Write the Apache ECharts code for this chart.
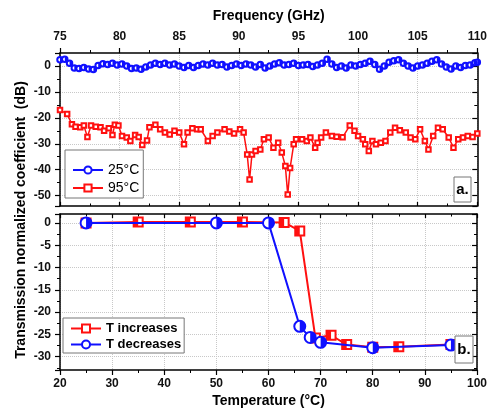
<!DOCTYPE html>
<html><head><meta charset="utf-8">
<script src="https://cdn.jsdelivr.net/npm/echarts@6/dist/echarts.min.js"></script>
<style>html,body{margin:0;padding:0;background:#fff}#c{width:490px;height:412px}</style>
</head><body><div id="c"></div><script>
// ---- data ----
const freqTicks = [75, 80, 85, 90, 95, 100, 105, 110];
const tempTicks = [20, 30, 40, 50, 60, 70, 80, 90, 100];

const blueFreq = [75.0,75.4,75.8,76.2,76.6,77.0,77.4,77.8,78.2,78.6,79.0,79.4,79.8,80.2,80.6,81.0,81.4,81.8,82.2,82.6,83.0,83.4,83.8,84.2,84.6,85.0,85.4,85.8,86.2,86.6,87.0,87.4,87.8,88.2,88.6,89.0,89.4,89.8,90.2,90.6,91.0,91.4,91.8,92.2,92.6,93.0,93.4,93.8,94.2,94.6,95.0,95.4,95.8,96.2,96.6,97.0,97.4,97.8,98.2,98.6,99.0,99.4,99.8,100.2,100.6,101.0,101.4,101.8,102.2,102.6,103.0,103.4,103.8,104.2,104.6,105.0,105.4,105.8,106.2,106.6,107.0,107.4,107.8,108.2,108.6,109.0,109.4,109.8,110.0];
const blueDb = [2.4,2.6,1.0,-0.8,-1.0,-0.6,-1.2,-1.4,0.2,0.9,0.6,1.0,0.4,0.8,0.0,-1.0,-0.8,-1.3,-0.4,0.4,1.0,0.6,1.0,0.4,0.8,0.0,-0.6,0.2,-0.6,0.2,0.8,0.4,1.0,0.4,0.6,-0.4,0.2,0.8,0.2,0.8,0.4,-0.4,0.6,-0.8,0.0,0.8,1.2,0.4,0.6,1.0,0.2,0.4,0.6,-0.2,0.4,1.0,2.6,0.8,-0.6,0.0,-0.8,0.4,0.0,0.6,1.0,1.8,0.6,-1.3,0.0,1.4,2.0,2.4,1.0,0.0,-0.8,0.0,0.4,1.0,1.8,2.4,0.8,-0.4,-1.2,0.0,-0.6,0.2,0.4,1.2,1.4];

const redFreq = [75.0,75.6,76.0,76.3,76.7,77.0,77.3,77.6,78.0,78.4,78.7,79.1,79.4,79.6,79.9,80.2,80.6,80.9,81.3,81.6,81.9,82.3,82.5,83.0,83.4,83.8,84.2,84.6,85.0,85.4,85.7,86.1,86.5,86.8,87.4,87.8,88.2,88.8,89.2,89.6,90.1,90.4,90.7,90.9,91.1,91.4,91.8,92.1,92.5,92.9,93.3,93.6,93.9,94.1,94.3,94.6,94.8,95.3,95.7,96.0,96.4,96.6,96.9,97.3,97.8,98.2,98.7,99.3,99.7,100.0,100.4,100.6,100.9,101.2,101.5,101.9,102.3,102.7,103.1,103.5,104.0,104.4,104.8,105.2,105.6,105.9,106.3,106.7,107.1,107.6,108.0,108.4,108.8,109.2,109.6,110.0];
const redDb = [-17,-18.5,-22.5,-23.4,-23.6,-23,-27.4,-23,-23.4,-23.6,-25,-24,-26.6,-22.7,-23,-27,-27.6,-28.9,-26.6,-27.4,-30.5,-28.7,-23.6,-22.7,-24.4,-25.7,-26.4,-25,-25.7,-30.2,-25.7,-24,-24.4,-24.4,-28.9,-27,-25.7,-24.4,-25.3,-26,-24.4,-25.7,-34.1,-43.8,-34.1,-32.8,-32.2,-28.3,-27.6,-31.5,-29.6,-33.4,-38.6,-49.6,-39.3,-30.2,-28.3,-28.3,-28.9,-27.6,-31.5,-29.6,-27.6,-25.7,-27,-27.3,-27.5,-23,-25,-27,-28.3,-30.2,-32.8,-28.9,-30.2,-29.6,-28.9,-25.7,-23.8,-24.8,-25.7,-27.6,-28.3,-24.4,-28.9,-32.2,-27,-23.8,-24.4,-27.6,-31.5,-28.3,-27.6,-27,-27.4,-26];

const incTemp = [25,35,45,55,63,66,69,72,75,80,85,95];
const incVal  = [0,0.2,0.2,0.2,0.1,-1.8,-25.8,-25.2,-27.3,-27.9,-27.8,-27.3];
const decTemp = [25,50,60,66,68,70,80,95];
const decVal  = [0,0,0,-23.2,-25.7,-26.8,-28,-27.4];

const names = { blue: '25°C', red: '95°C', inc: 'T increases', dec: 'T decreases' };

// ---- chart ----
const F = 'Arial, "Liberation Sans", sans-serif';
const pair = (a, b) => a.map((v, i) => [v, b[i]]);
const BLUE = '#1010ff', RED = '#ff1010';
const halfRight = 'path://M0,0 A1,1 0 0,1 0,2 Z';

function mainX(grid, pos, min, max, interval, name, gap, margin) {
  return {
    gridIndex: grid, type: 'value', position: pos, min, max, interval,
    name, nameLocation: 'middle', nameGap: gap,
    nameTextStyle: { fontFamily: F, fontWeight: 'bold', fontSize: 14, color: '#000' },
    axisLine: { show: true, onZero: false, lineStyle: { color: '#000', width: 1.5 } },
    axisTick: { show: true, length: 5, lineStyle: { color: '#000', width: 1.2 } },
    minorTick: { show: true, splitNumber: 2, length: 3, lineStyle: { color: '#000', width: 1 } },
    axisLabel: { fontFamily: F, fontWeight: 'bold', fontSize: 12, color: '#111', margin },
    splitLine: { show: true, lineStyle: { color: '#c8c8c8', type: 'dotted', width: 1 } }
  };
}
function sideX(grid, pos, min, max, interval) {
  return {
    gridIndex: grid, type: 'value', position: pos, min, max, interval,
    axisLine: { show: true, onZero: false, lineStyle: { color: '#000', width: 1.5 } },
    axisTick: { show: true, inside: true, length: 4, lineStyle: { color: '#000', width: 1.2 } },
    minorTick: { show: true, splitNumber: 2, length: 2.5, lineStyle: { color: '#000' } },
    axisLabel: { show: false }, splitLine: { show: false }
  };
}
function mainY(grid, min, max, split) {
  return {
    gridIndex: grid, type: 'value', position: 'left', min, max, splitNumber: split,
    axisLine: { show: true, onZero: false, lineStyle: { color: '#000', width: 1.5 } },
    axisTick: { show: true, length: 5, lineStyle: { color: '#000', width: 1.2 } },
    minorTick: { show: true, splitNumber: 2, length: 3, lineStyle: { color: '#000' } },
    axisLabel: { fontFamily: F, fontWeight: 'bold', fontSize: 12, color: '#111', margin: 9,
                 showMinLabel: false, showMaxLabel: false },
    splitLine: { show: true, showMinLine: false, showMaxLine: false,
                 lineStyle: { color: '#c8c8c8', type: 'dotted', width: 1 } }
  };
}
function sideY(grid, min, max, split) {
  return {
    gridIndex: grid, type: 'value', position: 'right', min, max, splitNumber: split,
    axisLine: { show: true, onZero: false, lineStyle: { color: '#000', width: 1.5 } },
    axisTick: { show: true, inside: true, length: 5, lineStyle: { color: '#000', width: 1.2 } },
    minorTick: { show: true, splitNumber: 2, length: 3, lineStyle: { color: '#000' } },
    axisLabel: { show: false }, splitLine: { show: false }
  };
}

const option = {
  animation: false,
  backgroundColor: '#fff',
  grid: [
    { left: 60, right: 9, top: 53, height: 153 },
    { left: 60, right: 9, top: 214, height: 156 }
  ],
  xAxis: [
    mainX(0, 'top', freqTicks[0], freqTicks[freqTicks.length - 1], 5, 'Frequency (GHz)', 30, 10),
    sideX(0, 'bottom', freqTicks[0], freqTicks[freqTicks.length - 1], 5),
    mainX(1, 'bottom', tempTicks[0], tempTicks[tempTicks.length - 1], 10, 'Temperature (°C)', 24, 8),
    sideX(1, 'top', tempTicks[0], tempTicks[tempTicks.length - 1], 10)
  ],
  yAxis: [
    mainY(0, -54, 5, 6), sideY(0, -54, 5, 6),
    mainY(1, -33, 2, 7), sideY(1, -33, 2, 7)
  ],
  legend: [
    {
      data: [names.blue, names.red], orient: 'vertical', left: 65, top: 150,
      padding: [13, 4, 3, 7], itemGap: 4, itemWidth: 30, itemHeight: 9,
      backgroundColor: '#fff', borderColor: '#777', borderWidth: 1,
      textStyle: { fontFamily: F, fontSize: 14, color: '#000' }
    },
    {
      data: [names.inc, names.dec], orient: 'vertical', left: 63, top: 318,
      padding: [4, 3, 2, 7], itemGap: 3, itemWidth: 30, itemHeight: 10,
      backgroundColor: '#fff', borderColor: '#777', borderWidth: 1,
      textStyle: { fontFamily: F, fontSize: 13, fontWeight: 'bold', color: '#000' }
    }
  ],
  series: [
    { name: names.blue, type: 'line', xAxisIndex: 0, yAxisIndex: 0, data: pair(blueFreq, blueDb),
      symbol: 'emptyCircle', symbolSize: 5.5, color: BLUE, lineStyle: { width: 1.5, color: BLUE },
      itemStyle: { color: BLUE, borderColor: '#6a6aff', borderWidth: 1 }, z: 3 },
    { name: names.blue, type: 'line', xAxisIndex: 0, yAxisIndex: 0, data: pair(blueFreq, blueDb),
      symbol: halfRight, symbolSize: [2.75, 5.5], symbolOffset: [1.4, 0], color: BLUE,
      lineStyle: { width: 0, opacity: 0 }, itemStyle: { color: BLUE }, z: 4 },
    { name: names.red, type: 'line', xAxisIndex: 0, yAxisIndex: 0, data: pair(redFreq, redDb),
      symbol: 'emptyRect', symbolSize: 4.5, color: RED, lineStyle: { width: 1.5, color: RED },
      itemStyle: { color: RED, borderColor: '#ff5050', borderWidth: 1 }, z: 3 },
    { name: names.inc, type: 'line', xAxisIndex: 2, yAxisIndex: 2, data: pair(incTemp, incVal),
      symbol: 'emptyRect', symbolSize: 9, color: RED, lineStyle: { width: 2, color: RED },
      itemStyle: { color: RED, borderWidth: 1.2 }, z: 3 },
    { name: names.inc, type: 'line', xAxisIndex: 2, yAxisIndex: 2, data: pair(incTemp, incVal),
      symbol: 'rect', symbolSize: [4.5, 9], symbolOffset: [-2.25, 0], color: RED,
      lineStyle: { width: 0, opacity: 0 }, itemStyle: { color: RED }, z: 4 },
    { name: names.dec, type: 'line', xAxisIndex: 2, yAxisIndex: 2, data: pair(decTemp, decVal),
      symbol: 'emptyCircle', symbolSize: 11, color: BLUE, lineStyle: { width: 2, color: BLUE },
      itemStyle: { color: BLUE, borderColor: '#8c8cff', borderWidth: 1.2 }, z: 5 },
    { name: names.dec, type: 'line', xAxisIndex: 2, yAxisIndex: 2, data: pair(decTemp, decVal),
      symbol: halfRight, symbolSize: [5.5, 11], symbolOffset: [2.75, 0], color: BLUE,
      lineStyle: { width: 0, opacity: 0 }, itemStyle: { color: BLUE }, z: 6 }
  ],
  graphic: [
    { type: 'text', x: 21, y: 220, rotation: Math.PI / 2, z: 10,
      style: { text: 'Transmission normalized coefficient  (dB)', font: 'bold 14px ' + F, fill: '#000',
               textAlign: 'center', textVerticalAlign: 'middle', align: 'center', verticalAlign: 'middle' } },
    { type: 'rect', shape: { x: 454, y: 177, width: 17, height: 25 }, z: 10,
      style: { fill: '#fff', stroke: '#777', lineWidth: 1 } },
    { type: 'text', x: 462.5, y: 190, z: 11,
      style: { text: 'a.', font: 'bold 15px ' + F, fill: '#000', textAlign: 'center', textVerticalAlign: 'middle', align: 'center', verticalAlign: 'middle' } },
    { type: 'rect', shape: { x: 455, y: 336, width: 18, height: 27 }, z: 10,
      style: { fill: '#fff', stroke: '#777', lineWidth: 1 } },
    { type: 'text', x: 464, y: 350, z: 11,
      style: { text: 'b.', font: 'bold 15px ' + F, fill: '#000', textAlign: 'center', textVerticalAlign: 'middle', align: 'center', verticalAlign: 'middle' } }
  ]
};
const chart = echarts.init(document.getElementById('c'), null, { renderer: 'canvas' });
chart.setOption(option);
</script></body></html>
